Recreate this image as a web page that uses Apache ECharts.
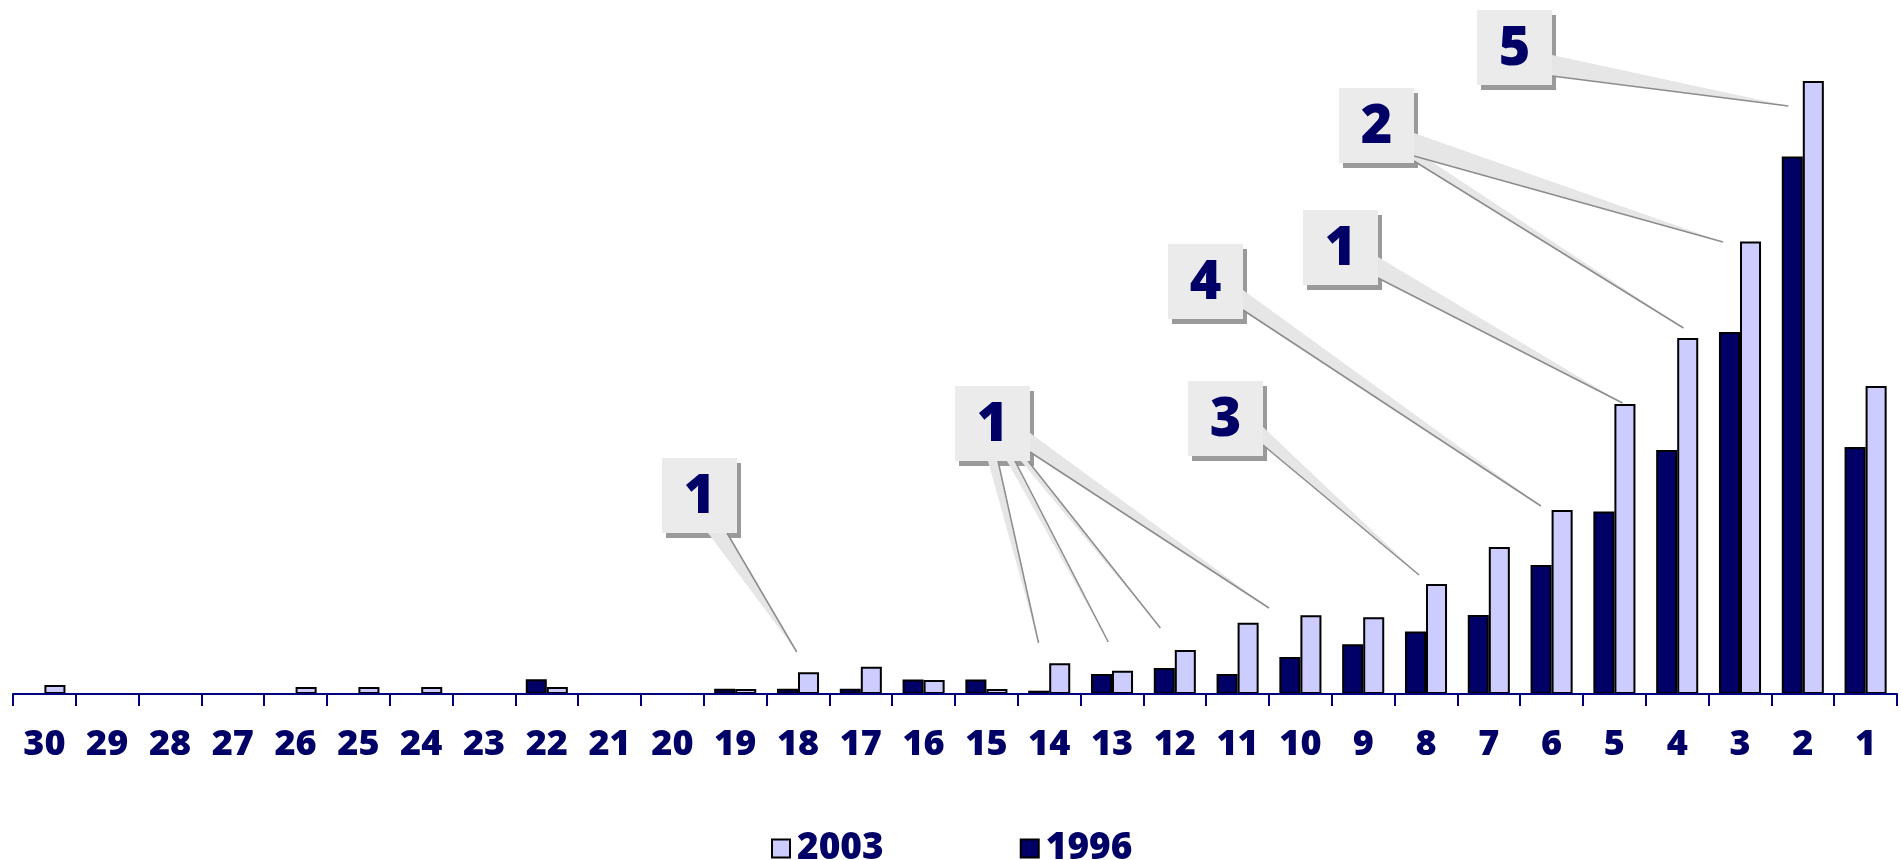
<!DOCTYPE html>
<html><head><meta charset="utf-8">
<script src="https://cdn.jsdelivr.net/npm/echarts@6/dist/echarts.min.js"></script>
<style>html,body{margin:0;padding:0;background:#fff}#c{width:1901px;height:860px}</style>
</head><body><div id="c"></div>
<script>
// ---- data ----
const categories = ['30','29','28','27','26','25','24','23','22','21','20','19','18','17','16','15','14','13','12','11','10','9','8','7','6','5','4','3','2','1'];
const values1996 = [0,0,0,0,0,0,0,0,1.47,0,0,0.53,0.53,0.53,1.45,1.45,0.33,2.0,2.6,2.0,3.7,4.97,6.25,7.9,12.9,18.25,24.4,36.2,53.75,24.7];
const values2003 = [0.9,0,0,0,0.7,0.7,0.7,0,0.7,0,0,0.5,2.17,2.73,1.4,0.5,3.07,2.33,4.4,7.13,7.87,7.67,11.0,14.7,18.4,29.0,35.6,45.25,61.3,30.8];
const seriesNames = ['1996','2003'];
const legendOrder = ['2003','1996'];
const calloutLabels = ['5','2','1','4','3','1','1'];
// callout pointer targets: [category, value, offset within category band]
const calloutTargets = [
  [['2',58.8,-0.23]],
  [['3',45.2,-0.27],['4',36.6,0.1]],
  [['5',29.1,0.13]],
  [['6',18.8,-0.17]],
  [['8',11.9,-0.11]],
  [['14',5.1,-0.17],['13',5.2,-0.06],['12',6.6,-0.23],['11',8.6,0.5]],
  [['18',4.2,-0.02]]
];
// ---- layout of callout boxes (pixels) ----
const calloutLayout = [
  {box:[1477,10], bases:[[[75,45],[75,66]]]},
  {box:[1339,88], bases:[[[75,45],[75,68]],[[75,62],[75,73]]]},
  {box:[1303,210], bases:[[[75,47],[75,68]]]},
  {box:[1168,244], bases:[[[75,46],[75,66]]]},
  {box:[1188,381], bases:[[[75,46],[75,64]]]},
  {box:[955,386], bases:[[[33,75],[43,75]],[[52,75],[60,75]],[[66,75],[73,75]],[[75,47],[75,66]]]},
  {box:[662,458], bases:[[[46,75],[65,75]]]}
];
const NAVY = '#000066';
const FONT = '"Noto Sans", "DejaVu Sans", sans-serif';

const chart = echarts.init(document.getElementById('c'), null, {renderer:'canvas'});
const option = {
  animation: false,
  backgroundColor: '#ffffff',
  grid: {left: 13, right: 4, top: 74, bottom: 166, containLabel: false},
  legend: {
    data: legendOrder,
    left: 766, top: 825,
    itemWidth: 18, itemHeight: 18, itemGap: 136,
    icon: 'rect',
    textStyle: {color: NAVY, fontSize: 37, fontWeight: 900, fontFamily: FONT, padding:[0,0,0,2]}
  },
  xAxis: {
    type: 'category', data: categories, z: 5,
    axisLine: {lineStyle: {color: '#000080', width: 2}},
    axisTick: {show: true, length: 12, lineStyle: {color: '#000080', width: 2}},
    axisLabel: {interval: 0, margin: 33, color: NAVY, fontSize: 36, fontWeight: 900, fontFamily: FONT},
    splitLine: {show: false}
  },
  yAxis: {type: 'value', min: 0, max: 62, show: false, splitLine: {show: false}},
  series: [
    {name: seriesNames[0], type: 'bar', data: values1996, barGap: '0%', barCategoryGap: '33%',
     itemStyle: {color: NAVY, borderColor: '#000', borderWidth: 2}},
    {name: seriesNames[1], type: 'bar', data: values2003, barGap: '0%', barCategoryGap: '33%',
     itemStyle: {color: '#CCCCFF', borderColor: '#000', borderWidth: 2}}
  ]
};
chart.setOption(option);

function px(cat, v){ return chart.convertToPixel({xAxisIndex:0, yAxisIndex:0}, [cat, v]); }
const band = px(categories[1], 0)[0] - px(categories[0], 0)[0];
const g = [];
const BW = 75, BH = 75;
calloutLayout.forEach((L, i) => {
  const bx = L.box[0], by = L.box[1];
  g.push({type:'rect', silent:true, shape:{x:bx+4, y:by+5, width:BW, height:BH}, style:{fill:'#9a9a9a'}, z:10});
  calloutTargets[i].forEach((t, j) => {
    const p = px(t[0], t[1]);
    const tip = [p[0] + t[2]*band, p[1]];
    const b = L.bases[j];
    const a = [bx + b[0][0], by + b[0][1]], c = [bx + b[1][0], by + b[1][1]];
    g.push({type:'polygon', silent:true, shape:{points:[a, c, tip]}, style:{fill:'#e6e6e6'}, z:11});
    g.push({type:'line', silent:true, shape:{x1:c[0], y1:c[1], x2:tip[0], y2:tip[1]}, style:{stroke:'#8c8c8c', lineWidth:1.5}, z:12});
  });
  g.push({type:'rect', silent:true, shape:{x:bx, y:by, width:BW, height:BH}, style:{fill:'#ebebeb'}, z:13});
  g.push({type:'text', silent:true, x:bx+BW/2, y:by+BH/2+2,
          style:{text:calloutLabels[i], fontSize:54, fontWeight:900, fontFamily:FONT, fill:NAVY, align:'center', verticalAlign:'middle'}, z:14});
});
chart.setOption({graphic: g});
</script>
</body></html>
